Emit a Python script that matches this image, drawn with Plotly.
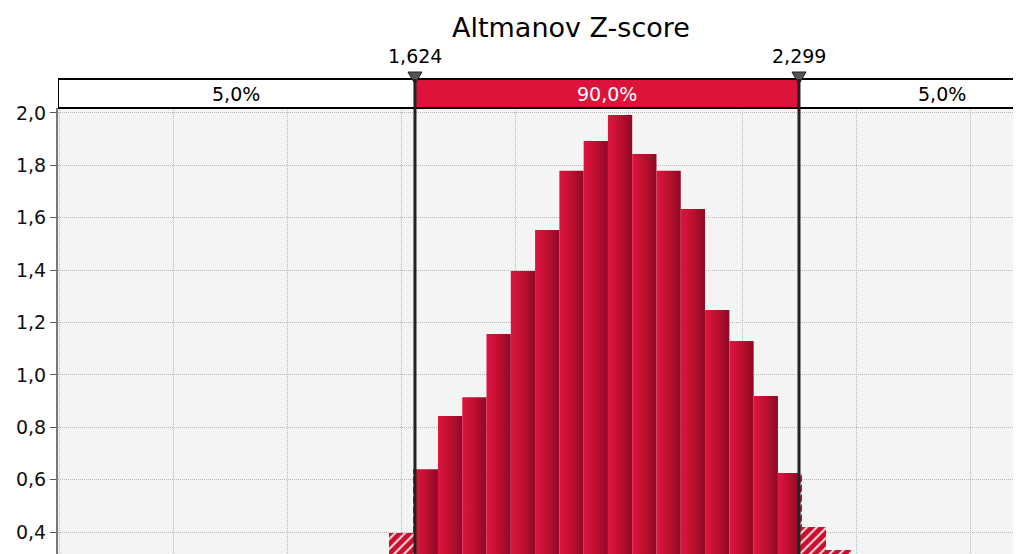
import plotly.graph_objects as go

# histogram bins (left edges + last right edge) and bar heights
bin_edges = [1.5790, 1.6217, 1.6644, 1.7071, 1.7497, 1.7924, 1.8351, 1.8778, 1.9205, 1.9632,
             2.0058, 2.0485, 2.0912, 2.1339, 2.1766, 2.2193, 2.2620, 2.3046, 2.3473, 2.3900]
bin_heights = [0.396, 0.640, 0.843, 0.915, 1.156, 1.397, 1.553, 1.779, 1.893, 1.992,
               1.843, 1.779, 1.633, 1.248, 1.129, 0.919, 0.625, 0.419, 0.331]

# delimiters and the probability in each band
delimiters = [1.624, 2.299]
band_percents = [5.0, 90.0, 5.0]
axis_min, axis_max = 0.9965, 2.8   # full x axis of the original chart

title = "Altmanov Z-score"

crimson = '#DC143C'


def fmt_comma(v, nd):
    return f"{v:.{nd}f}".replace('.', ',')


d1, d2 = delimiters
solid = []
striped = []
for i, h in enumerate(bin_heights):
    l, r = bin_edges[i], bin_edges[i + 1]
    # part inside the delimiters
    lo, hi = max(l, d1), min(r, d2)
    if hi > lo:
        solid.append((lo, hi, h))
    # parts outside
    if l < d1:
        striped.append((l, min(r, d1), h))
    if r > d2:
        striped.append((max(l, d2), r, h))

fig = go.Figure()

# striped bars in the tails
fig.add_trace(go.Bar(
    x=[(a + b) / 2 for a, b, _ in striped],
    y=[h for _, _, h in striped],
    width=[b - a for a, b, _ in striped],
    marker=dict(color='#C8102E', line=dict(width=0),
                pattern=dict(shape='/', fillmode='replace', bgcolor='#C8102E',
                             fgcolor='white', size=7, solidity=0.25)),
    hoverinfo='skip'
))

# solid bars, bright on the left and darker to the right
for l, r, h in solid:
    fig.add_trace(go.Scatter(
        x=[l, l, r, r, l], y=[0, h, h, 0, 0],
        mode='lines', line=dict(width=0), fill='toself',
        fillgradient=dict(type='horizontal', start=l, stop=r,
                          colorscale=[[0, '#DE1541'], [0.5, '#BE0F2F'], [1, '#8C0A25']]),
        hoverinfo='skip'
    ))

band_top = 1.065
edges = [axis_min, d1, d2, axis_max]
fills = ['white', crimson, 'white']
shapes = []
annotations = []
for i in range(3):
    shapes.append(dict(type='rect', xref='x', yref='paper',
                       x0=edges[i], x1=edges[i + 1], y0=1.0, y1=band_top,
                       fillcolor=fills[i], line=dict(color='black', width=2), layer='above'))
    annotations.append(dict(
        x=(edges[i] + edges[i + 1]) / 2, y=(1.0 + band_top) / 2, xref='x', yref='paper',
        text=fmt_comma(band_percents[i], 1) + '%', showarrow=False,
        font=dict(size=19, color='white' if i == 1 else 'black'),
        xanchor='center', yanchor='middle'))

for d in delimiters:
    # small triangle marker on the band
    shapes.append(dict(type='path', xref='x', yref='paper', xsizemode='pixel', ysizemode='pixel',
                       xanchor=d, yanchor=band_top, path='M-7,7 L7,7 L0,-5 Z',
                       fillcolor='#555555', line=dict(color='#222222', width=1), layer='above'))
    shapes.append(dict(type='line', xref='x', yref='paper', x0=d, x1=d, y0=0, y1=band_top,
                       line=dict(color='#222222', width=3), layer='above'))
    annotations.append(dict(x=d, y=1.088, xref='x', yref='paper', text=fmt_comma(d, 3),
                            showarrow=False, font=dict(size=19, color='black'),
                            xanchor='center', yanchor='bottom'))

annotations.append(dict(x=(axis_min + axis_max) / 2, y=1.1816, xref='x', yref='paper',
                        text=title, showarrow=False, font=dict(size=27, color='black'),
                        xanchor='center', yanchor='middle'))

# the page body keeps an 8px margin, so the figure is 8px smaller
fig.update_layout(
    width=1013, height=546,
    margin=dict(l=50, r=0, t=100, b=0),
    plot_bgcolor='#f4f4f4', paper_bgcolor='white',
    separators=',.',
    showlegend=False,
    bargap=0,
    font=dict(family='DejaVu Sans, Verdana, sans-serif', size=19, color='#111111'),
    xaxis=dict(range=[axis_min, axis_min + 963 / 568.9], showticklabels=False,
               tick0=1.0, dtick=0.2, showgrid=True, gridcolor='#b8b8b8', griddash='1px,1px',
               zeroline=False, showline=False),
    yaxis=dict(range=[0.316, 2.019], tick0=0, dtick=0.2, tickformat='.1f',
               ticks='outside', ticklen=6, tickcolor='#555555',
               showgrid=True, gridcolor='#b8b8b8', griddash='1px,1px',
               showline=True, linecolor='#777777', linewidth=2, zeroline=False),
    shapes=shapes,
    annotations=annotations,
)

fig.write_html("out.html")
